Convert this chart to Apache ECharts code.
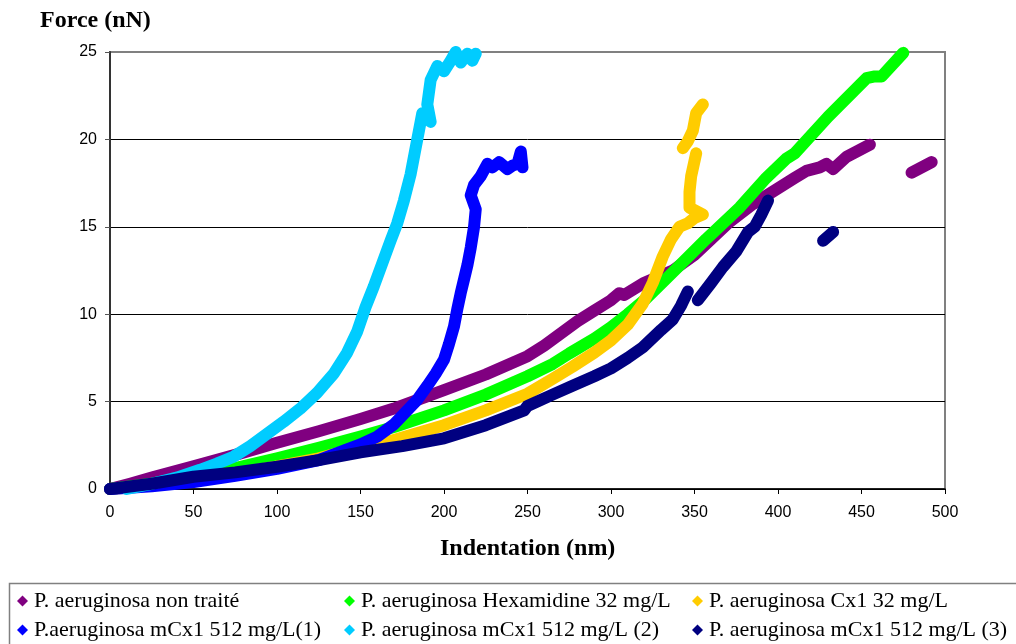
<!DOCTYPE html>
<html>
<head>
<meta charset="utf-8">
<script src="https://cdn.jsdelivr.net/npm/echarts@6/dist/echarts.min.js"></script>
<style>html,body{margin:0;padding:0;background:#fff;}#c{width:1016px;height:644px;}</style>
</head>
<body>
<div id="c"></div>
<script>
const seriesNames = [
  'P. aeruginosa non traité',
  'P. aeruginosa Hexamidine 32 mg/L',
  'P. aeruginosa Cx1 32 mg/L',
  'P.aeruginosa mCx1 512 mg/L(1)',
  'P. aeruginosa mCx1 512 mg/L (2)',
  'P. aeruginosa mCx1 512 mg/L (3)'
];
const seriesColors = ['#800080', '#00ff00', '#ffcc00', '#0000ff', '#00ccff', '#000080'];

const nonTraite = [[0,0],[12,0.3],[25,0.65],[50,1.3],[75,1.95],[100,2.65],[125,3.3],[150,4.0],[170,4.6],[200,5.65],[225,6.55],[250,7.6],[260,8.2],[270,8.9],[280,9.6],[290,10.2],[300,10.8],[305,11.2],[308,11.1],[320,11.8],[337,12.5],[350,13.4],[360,14.3],[370,15.2],[385,16.3],[400,17.2],[410,17.8],[417,18.2],[425,18.4],[429,18.6],[433,18.3],[441,19.0],[455,19.7],[467,'-'],[480,18.1],[492,18.7]];
const hexamidine = [[0,0],[25,0.3],[50,0.75],[75,1.2],[100,1.75],[125,2.35],[150,3.0],[170,3.55],[200,4.5],[225,5.4],[250,6.45],[265,7.15],[275,7.75],[290,8.6],[300,9.25],[310,10.0],[320,10.8],[337,12.4],[357,14.3],[377,16.1],[393,17.8],[405,18.9],[410,19.2],[430,21.3],[453,23.5],[458,23.6],[462,23.6],[475,24.95]];
const cx1 = [[0,0],[25,0.2],[50,0.5],[75,0.85],[100,1.3],[125,1.75],[150,2.4],[168,2.75],[200,3.65],[225,4.5],[250,5.45],[265,6.3],[277,7.0],[290,7.8],[300,8.5],[310,9.4],[319,10.6],[325,11.8],[331,13.3],[336,14.3],[341,15.0],[346,15.2],[350,15.5],[355,15.7],[347,16.1],[347,17.0],[348,17.9],[351,19.2],[351,'-'],[343,19.5],[346,19.9],[349,20.5],[351,21.5],[355,22.0]];
const mcx1a = [[0,0],[25,0.15],[50,0.4],[75,0.75],[100,1.15],[125,1.65],[140,2.2],[150,2.55],[160,3.0],[170,3.7],[178,4.5],[184,5.1],[190,5.9],[195,6.6],[200,7.4],[203,8.3],[206,9.3],[208,10.3],[210,11.2],[212,12.0],[214,12.8],[216,13.8],[218,15.0],[219,16.0],[216,16.8],[218,17.4],[222,17.9],[226,18.6],[229,18.4],[233,18.7],[238,18.3],[241,18.5],[244,18.6],[246,19.3],[247,18.4]];
const mcx1b = [[10,0],[25,0.3],[40,0.65],[54,1.1],[64,1.45],[74,1.85],[84,2.45],[94,3.15],[104,3.85],[114,4.6],[124,5.5],[134,6.6],[142,7.8],[148,9.0],[153,10.4],[158,11.6],[163,12.9],[168,14.2],[172,15.2],[176,16.5],[180,18.0],[184,20.0],[187,21.5],[192,21.0],[190,22.0],[192,23.4],[196,24.2],[200,23.9],[204,24.5],[207,25.0],[210,24.4],[214,24.9],[217,24.5],[219,24.9]];
const mcx1c = [[0,0],[25,0.3],[50,0.7],[75,0.95],[100,1.27],[125,1.65],[150,2.1],[175,2.45],[200,2.9],[225,3.65],[248,4.5],[250,4.75],[265,5.4],[277,5.9],[290,6.45],[300,6.9],[310,7.5],[319,8.1],[330,9.1],[337,9.7],[342,10.5],[346,11.3],[349,'-'],[352,10.8],[360,11.8],[367,12.7],[375,13.6],[382,14.7],[386,15.0],[390,15.7],[394,16.5],[400,'-'],[427,14.2],[433,14.7]];
const seriesData = [nonTraite, hexamidine, cx1, mcx1a, mcx1b, mcx1c];

const xTicks = {min: 0, max: 500, interval: 50};
const yTicks = {min: 0, max: 25, interval: 5};
const yAxisTitle = 'Force (nN)';
const xAxisTitle = 'Indentation (nm)';

const chart = echarts.init(document.getElementById('c'), null, {renderer: 'canvas'});

const legendPos = [
  {left: 17, top: 590}, {left: 344, top: 590}, {left: 692, top: 590},
  {left: 17, top: 619}, {left: 344, top: 619}, {left: 692, top: 619}
];

const option = {
  backgroundColor: '#fff',
  animation: false,
  grid: {left: 110, right: 71, top: 52, bottom: 155, show: true, borderColor: '#808080', borderWidth: 2, backgroundColor: 'transparent'},
  xAxis: {
    type: 'value', min: xTicks.min, max: xTicks.max, interval: xTicks.interval,
    axisLine: {show: true, onZero: false, lineStyle: {color: '#000', width: 1.5}},
    axisTick: {show: true, length: 5, inside: false, lineStyle: {color: '#000'}},
    axisLabel: {fontFamily: 'Liberation Sans', fontSize: 16, color: '#000', margin: 16},
    splitLine: {show: false}
  },
  yAxis: {
    type: 'value', min: yTicks.min, max: yTicks.max, interval: yTicks.interval,
    axisLine: {show: true, lineStyle: {color: '#333', width: 2}},
    axisTick: {show: true, length: 5, inside: false, lineStyle: {color: '#555'}},
    axisLabel: {fontFamily: 'Liberation Sans', fontSize: 16, color: '#000', margin: 13},
    splitLine: {show: true, lineStyle: {color: ['#000','#000','#000','#000','#000','#808080'], width: 1}}
  },
  legend: seriesNames.map((n, i) => ({
    data: [n], left: legendPos[i].left, top: legendPos[i].top,
    icon: 'diamond', itemWidth: 11, itemHeight: 11, itemGap: 0, padding: 0,
    textStyle: {fontFamily: 'Liberation Serif', fontSize: 22, color: '#000', padding: [0, 0, 0, 1]},
    selectedMode: false
  })),
  graphic: [
    {type: 'rect', left: 7, top: 581, shape: {width: 1008, height: 62}, style: {fill: 'none', stroke: '#808080', lineWidth: 1.5}, z: -1},
    {type: 'text', left: 40, top: 9, style: {text: yAxisTitle, font: 'bold 24px "Liberation Serif"', fill: '#000'}},
    {type: 'text', left: 440, top: 537, style: {text: xAxisTitle, font: 'bold 24px "Liberation Serif"', fill: '#000'}}
  ],
  series: seriesData.map((d, i) => ({
    name: seriesNames[i], type: 'line', data: d, color: seriesColors[i],
    showSymbol: false, symbol: 'diamond', connectNulls: false,
    lineStyle: {width: 12, color: seriesColors[i], join: 'round', cap: 'round'},
    itemStyle: {color: seriesColors[i]},
    emphasis: {disabled: true}, z: 2 + i
  }))
};
chart.setOption(option);
</script>
</body>
</html>
